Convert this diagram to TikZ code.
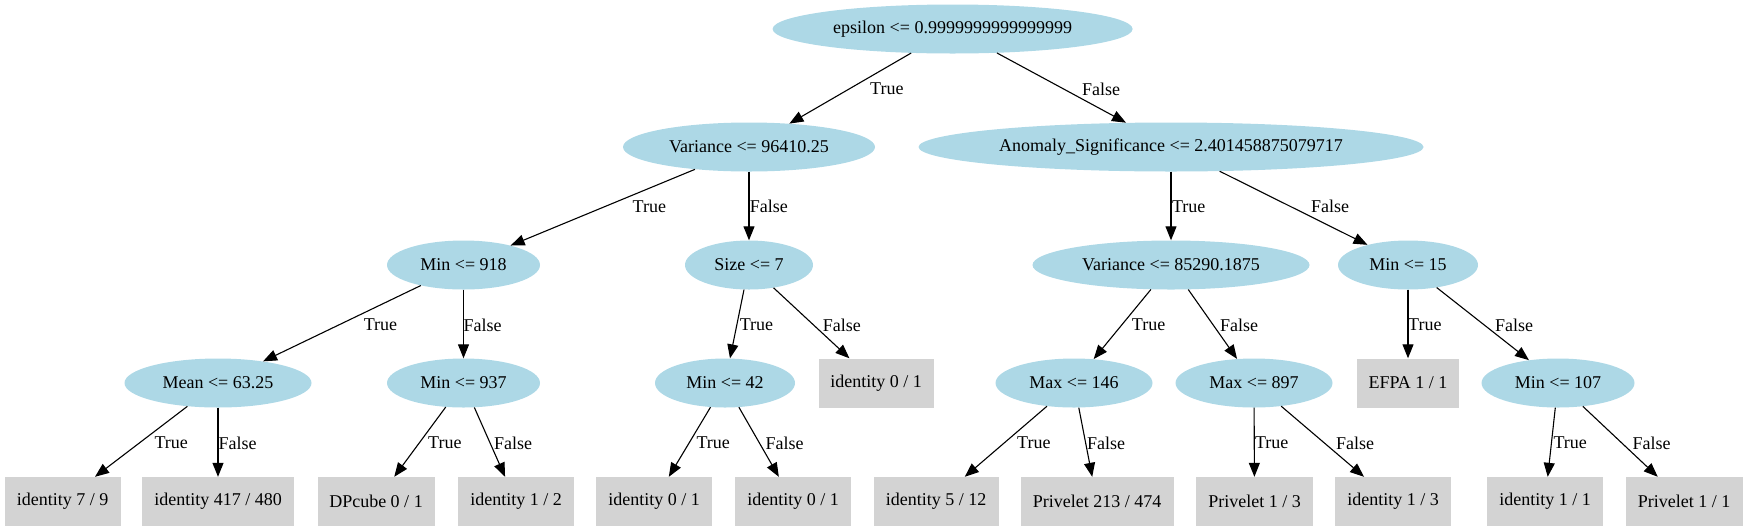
\documentclass[tikz,border=0pt]{standalone}
\usepackage{fontspec}
\setmainfont{Liberation Serif}
\usetikzlibrary{shapes.geometric,arrows.meta}
\definecolor{lblue}{HTML}{ADD8E6}
\definecolor{lgrey}{HTML}{D3D3D3}
\begin{document}
\begin{tikzpicture}[x=1pt,y=-1pt,font=\fontsize{18}{21}\selectfont,
  split/.style={ellipse,fill=lblue,inner sep=0pt,minimum height=49pt},
  leaf/.style={rectangle,fill=lgrey,inner sep=0pt,minimum height=49pt},
  elab/.style={anchor=west,inner sep=0pt},
  conn/.style={draw=black,line width=1.1pt,-{Triangle[length=14pt,width=11pt]}}]
\useasboundingbox (0,0) rectangle (1747,531);
% level 0
\node[split,minimum width=360pt] (n0) at (952.6,29) {epsilon <= 0.9999999999999999};
% level 1
\node[split,minimum width=252pt] (n1) at (749,147) {Variance <= 96410.25};
\node[split,minimum width=505pt] (n2) at (1171,147) {Anomaly\_Significance <= 2.401458875079717};
% level 2
\node[split,minimum width=153pt] (n3) at (463.5,265) {Min <= 918};
\node[split,minimum width=128pt] (n4) at (749,265) {Size <= 7};
\node[split,minimum width=277pt] (n5) at (1171,265) {Variance <= 85290.1875};
\node[split,minimum width=140pt] (n6) at (1408,265) {Min <= 15};
% level 3
\node[split,minimum width=187pt] (n7) at (218,383) {Mean <= 63.25};
\node[split,minimum width=153pt] (n8) at (463.5,383) {Min <= 937};
\node[split,minimum width=140pt] (n9) at (725,383) {Min <= 42};
\node[leaf,minimum width=115pt] (n10) at (876,383) {identity 0 / 1};
\node[split,minimum width=157pt] (n11) at (1074,383) {Max <= 146};
\node[split,minimum width=157pt] (n12) at (1254,383) {Max <= 897};
\node[leaf,minimum width=102pt] (n13) at (1408,383) {EFPA 1 / 1};
\node[split,minimum width=153pt] (n14) at (1558,383) {Min <= 107};
% leaves
\node[leaf,minimum width=116pt] (m1) at (62.6,501.5) {identity 7 / 9};
\node[leaf,minimum width=151.5pt] (m2) at (218,501.5) {identity 417 / 480};
\node[leaf,minimum width=117pt] (m3) at (376,501.5) {DPcube 0 / 1};
\node[leaf,minimum width=115.6pt] (m4) at (516,501.5) {identity 1 / 2};
\node[leaf,minimum width=115.6pt] (m5) at (654,501.5) {identity 0 / 1};
\node[leaf,minimum width=115.6pt] (m6) at (793,501.5) {identity 0 / 1};
\node[leaf,minimum width=125pt] (m7) at (936,501.5) {identity 5 / 12};
\node[leaf,minimum width=153pt] (m8) at (1097,501.5) {Privelet 213 / 474};
\node[leaf,minimum width=117pt] (m9) at (1254.5,501.5) {Privelet 1 / 3};
\node[leaf,minimum width=116pt] (m10) at (1393,501.5) {identity 1 / 3};
\node[leaf,minimum width=116pt] (m11) at (1545,501.5) {identity 1 / 1};
\node[leaf,minimum width=117pt] (m12) at (1684,501.5) {Privelet 1 / 1};
% connectors
\draw[conn] (n0) -- (n1);
\draw[conn] (n0) -- (n2);
\draw[conn] (n1) -- (n3);
\draw[conn] (n1) -- (n4);
\draw[conn] (n2) -- (n5);
\draw[conn] (n2) -- (n6);
\draw[conn] (n3) -- (n7);
\draw[conn] (n3) -- (n8);
\draw[conn] (n4) -- (n9);
\draw[conn] (n4) -- (n10);
\draw[conn] (n5) -- (n11);
\draw[conn] (n5) -- (n12);
\draw[conn] (n6) -- (n13);
\draw[conn] (n6) -- (n14);
\draw[conn] (n7) -- (m1);
\draw[conn] (n7) -- (m2);
\draw[conn] (n8) -- (m3);
\draw[conn] (n8) -- (m4);
\draw[conn] (n9) -- (m5);
\draw[conn] (n9) -- (m6);
\draw[conn] (n11) -- (m7);
\draw[conn] (n11) -- (m8);
\draw[conn] (n12) -- (m9);
\draw[conn] (n12) -- (m10);
\draw[conn] (n14) -- (m11);
\draw[conn] (n14) -- (m12);
% edge labels
\node[elab] (t1) at (870,89) {True};
\node[elab] (f1) at (1082,89) {False};
\node[elab] (t2) at (632.5,206.7) {True};
\node[elab] (f2) at (749.6,206.7) {False};
\node[elab] (t3) at (1171.8,206.7) {True};
\node[elab] (f3) at (1311,206.7) {False};
\node[elab] (t4) at (363.6,325) {True};
\node[elab] (f4) at (463.5,325) {False};
\node[elab] (t5) at (739.6,325) {True};
\node[elab] (f5) at (822.7,325) {False};
\node[elab] (t6) at (1131.7,325) {True};
\node[elab] (f6) at (1220,325) {False};
\node[elab] (t7) at (1408,325) {True};
\node[elab] (f7) at (1495,325) {False};
\node[elab] (t8) at (154.3,443) {True};
\node[elab] (f8) at (218.3,443) {False};
\node[elab] (t9) at (428,443) {True};
\node[elab] (f9) at (493.8,443) {False};
\node[elab] (t10) at (696.4,443) {True};
\node[elab] (f10) at (765.4,443) {False};
\node[elab] (t11) at (1017,443) {True};
\node[elab] (f11) at (1087,443) {False};
\node[elab] (t12) at (1254.8,443) {True};
\node[elab] (f12) at (1335.9,443) {False};
\node[elab] (t13) at (1553.4,443) {True};
\node[elab] (f13) at (1632.3,443) {False};
\end{tikzpicture}
\end{document}
